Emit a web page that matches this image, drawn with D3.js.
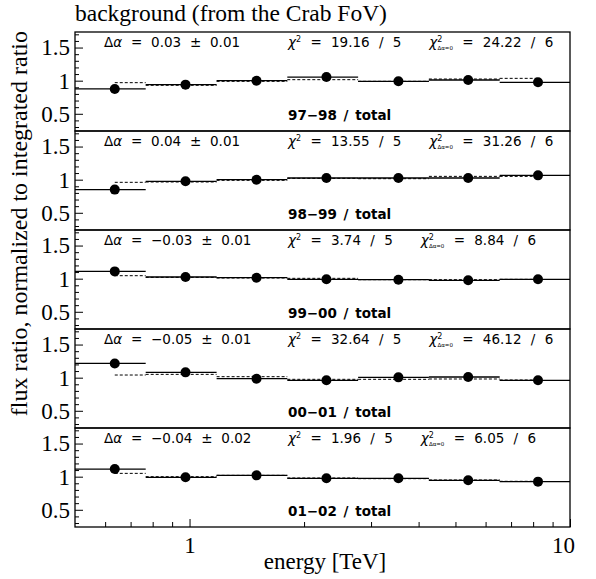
<!DOCTYPE html>
<html>
<head>
<meta charset="utf-8">
<script src="https://cdn.jsdelivr.net/npm/d3@7"></script>
<style>
  body { margin: 0; background: #fff; }
  svg { display: block; }
</style>
</head>
<body>
<svg width="596" height="579"></svg>
<script>
// ---- data ----
const periods = ["97−98", "98−99", "99−00", "00−01", "01−02"];
const binEdges = [0.5, 0.767, 1.178, 1.807, 2.774, 4.257, 6.534, 10];
const pointE = [0.636, 0.976, 1.50, 2.29, 3.54, 5.40, 8.24];

const ratio9798 = [0.875, 0.94, 1.0, 1.055, 0.99, 1.01, 0.975];
const ratio9899 = [0.85, 0.975, 1.0, 1.025, 1.025, 1.025, 1.065];
const ratio9900 = [1.11, 1.025, 1.015, 0.99, 0.985, 0.975, 0.99];
const ratio0001 = [1.215, 1.08, 0.985, 0.96, 1.005, 1.01, 0.96];
const ratio0102 = [1.115, 0.99, 1.02, 0.975, 0.975, 0.945, 0.925];

const model9798 = [0.97, 0.93, 0.99, 1.015, 0.99, 1.025, 1.035];
const model9899 = [0.96, 0.965, 0.99, 1.02, 1.015, 1.05, 1.05];
const model9900 = [1.045, 1.02, 1.01, 1.005, 0.985, 0.985, 0.99];
const model0001 = [1.04, 1.05, 1.015, 0.975, 0.975, 0.98, 0.965];
const model0102 = [1.05, 1.0, 1.02, 0.98, 0.97, 0.95, 0.93];

const dAlpha = ["0.03 ± 0.01", "0.04 ± 0.01", "−0.03 ± 0.01", "−0.05 ± 0.01", "−0.04 ± 0.02"];
const chi2 = ["19.16 / 5", "13.55 / 5", "3.74 / 5", "32.64 / 5", "1.96 / 5"];
const chi2zero = ["24.22 / 6", "31.26 / 6", "8.84 / 6", "46.12 / 6", "6.05 / 6"];

const yMajor = [0.5, 1, 1.5];
const yMinor = [0.3, 0.4, 0.6, 0.7, 0.8, 0.9, 1.1, 1.2, 1.3, 1.4, 1.6, 1.7];
const xMajor = [1, 10];
const xMinor = [0.6, 0.7, 0.8, 0.9, 2, 3, 4, 5, 6, 7, 8, 9];

const ratios = [ratio9798, ratio9899, ratio9900, ratio0001, ratio0102];
const models = [model9798, model9899, model9900, model0001, model0102];

// ---- layout ----
const plotL = 75, plotR = 570, plotT = 32, plotB = 527;
const panelH = (plotB - plotT) / 5;
const SERIF = "'Liberation Serif', 'Times New Roman', serif";
const SANS = "'DejaVu Sans', sans-serif";
const sansSize = 13.5;

const svg = d3.select("svg");
const x = d3.scaleLog().domain([0.5, 10]).range([plotL, plotR]);
const y = d3.scaleLinear().domain([0.24, 1.735]).range([panelH, 0]);

// title
svg.append("text")
  .attr("x", 75).attr("y", 21)
  .attr("font-family", SERIF).attr("font-size", 23.5)
  .text("background (from the Crab FoV)");

periods.forEach((p, i) => {
  const g = svg.append("g").attr("transform", `translate(0,${plotT + i * panelH})`);
  const r = ratios[i], m = models[i];

  // y ticks, pointing into the panel
  g.append("g").attr("transform", `translate(${plotL},0)`)
    .call(d3.axisLeft(y).tickValues(yMinor).tickSize(-4).tickFormat(""))
    .call(a => a.select(".domain").remove());
  const ya = g.append("g").attr("transform", `translate(${plotL},0)`)
    .call(d3.axisLeft(y).tickValues(yMajor).tickSize(-8).tickPadding(5).tickFormat(d3.format("")))
    .call(a => a.select(".domain").remove());
  ya.selectAll("text").attr("font-family", SERIF).attr("font-size", 23).attr("fill", "#000");

  // dashed model step line, from first to last point
  const segs = m.map((v, k) => ({
    x0: k === 0 ? pointE[0] : binEdges[k],
    x1: k === m.length - 1 ? pointE[k] : binEdges[k + 1],
    v: v
  }));
  g.selectAll(".model").data(segs).enter().append("line")
    .attr("x1", d => x(d.x0)).attr("x2", d => x(d.x1))
    .attr("y1", d => y(d.v)).attr("y2", d => y(d.v))
    .attr("stroke", "#000").attr("stroke-width", 1).attr("stroke-dasharray", "3,2");

  // measured ratio: horizontal bars over each bin
  g.selectAll(".bin").data(r).enter().append("line")
    .attr("x1", (d, k) => x(binEdges[k])).attr("x2", (d, k) => x(binEdges[k + 1]))
    .attr("y1", d => y(d)).attr("y2", d => y(d))
    .attr("stroke", "#000").attr("stroke-width", 1.3);

  g.selectAll(".pt").data(r).enter().append("circle")
    .attr("cx", (d, k) => x(pointE[k])).attr("cy", d => y(d))
    .attr("r", 5).attr("fill", "#000");

  // frame
  g.append("rect")
    .attr("x", plotL).attr("y", 0).attr("width", plotR - plotL).attr("height", panelH)
    .attr("fill", "none").attr("stroke", "#000").attr("stroke-width", 1.3);

  // annotations
  const t1 = g.append("text")
    .attr("x", 104).attr("y", 15)
    .attr("font-family", SANS).attr("font-size", sansSize).attr("word-spacing", 4.5);
  t1.append("tspan").text("Δ");
  t1.append("tspan").attr("font-style", "italic").text("α");
  t1.append("tspan").text(" = " + dAlpha[i]);

  const t2 = g.append("text")
    .attr("x", 288).attr("y", 15)
    .attr("font-family", SANS).attr("font-size", sansSize).attr("word-spacing", 5);
  t2.append("tspan").attr("font-style", "italic").text("χ");
  t2.append("tspan").attr("font-size", 8).attr("dy", -5).text("2");
  t2.append("tspan").attr("dy", 5).text(" = " + chi2[i]);

  const bb = t2.node().getBBox();
  const t3 = g.append("text")
    .attr("x", bb.x + bb.width + 28).attr("y", 15)
    .attr("font-family", SANS).attr("font-size", sansSize).attr("word-spacing", 5);
  t3.append("tspan").attr("font-style", "italic").text("χ");
  t3.append("tspan").attr("font-size", 8).attr("dy", -5).text("2");
  t3.append("tspan").attr("font-size", 5.5).attr("dx", -5).attr("dy", 8)
    .attr("word-spacing", 0).text("Δα=0");
  t3.append("tspan").attr("dy", -3).text(" = " + chi2zero[i]);

  g.append("text")
    .attr("x", 288).attr("y", 88)
    .attr("font-family", SANS).attr("font-size", sansSize).attr("font-weight", "bold")
    .attr("word-spacing", 2)
    .text(p + " / total");
});

// x axis at the bottom of the last panel
svg.append("g").attr("transform", `translate(0,${plotB})`)
  .call(d3.axisBottom(x).tickValues(xMinor).tickSize(-5).tickFormat(""))
  .call(a => a.select(".domain").remove());
const xa = svg.append("g").attr("transform", `translate(0,${plotB})`)
  .call(d3.axisBottom(x).tickValues(xMajor).tickSize(-8).tickPadding(10).tickFormat(d3.format("")))
  .call(a => a.select(".domain").remove());
xa.selectAll("text").attr("font-family", SERIF).attr("font-size", 23).attr("fill", "#000")
  .attr("dx", d => d === 10 ? -7 : 0);

svg.append("text")
  .attr("x", 325).attr("y", 569).attr("text-anchor", "middle")
  .attr("font-family", SERIF).attr("font-size", 23)
  .text("energy [TeV]");

svg.append("text")
  .attr("transform", "translate(27,31) rotate(-90)")
  .attr("text-anchor", "end")
  .attr("font-family", SERIF).attr("font-size", 24)
  .text("flux ratio, normalized to integrated ratio");
</script>
</body>
</html>
